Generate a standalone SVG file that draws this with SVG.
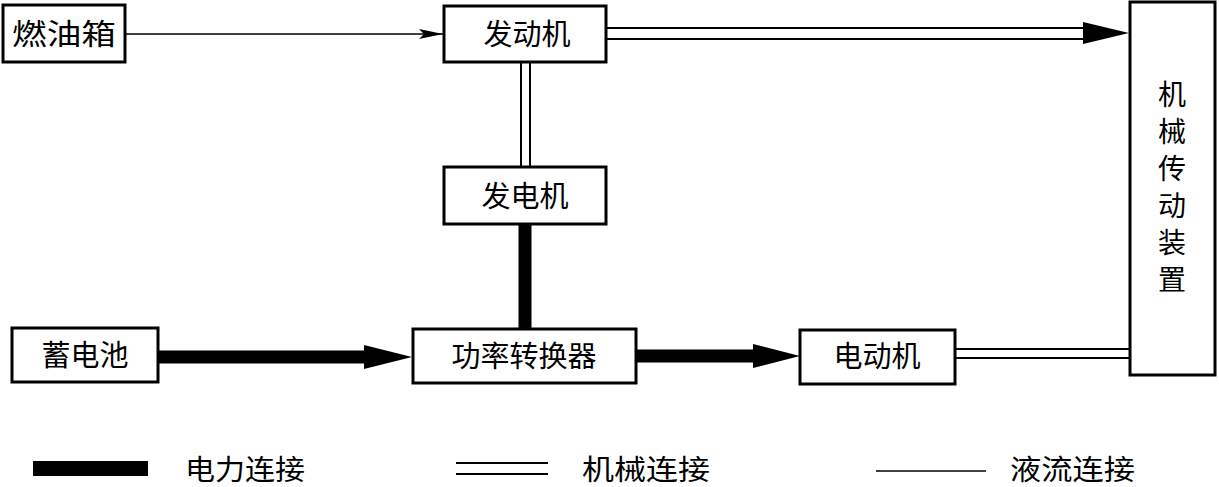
<svg xmlns="http://www.w3.org/2000/svg" width="1219" height="487" viewBox="0 0 1219 487">
<style>
.box{fill:#fff;stroke:#000;stroke-width:3}
.t{font-family:"Noto Sans CJK SC","Noto Sans",sans-serif;font-size:29px;fill:#000;text-anchor:middle}
.v{font-family:"Noto Sans CJK SC","Noto Sans",sans-serif;font-size:28px;fill:#000;writing-mode:vertical-rl;letter-spacing:9px}
.lg{font-family:"Noto Sans CJK SC","Noto Sans",sans-serif;font-size:28px;fill:#000}
.thin{stroke:#000;stroke-width:1.5;fill:none}
.dbl{stroke:#000;stroke-width:2;fill:none}
.thick{stroke:#000;stroke-width:13;fill:none}
</style>
<defs>
<marker id="small" markerWidth="24" markerHeight="10" refX="24" refY="5" orient="auto" markerUnits="userSpaceOnUse">
<path d="M0,0 L24,5 L0,10 L5,5 Z" fill="#000"/>
</marker>
</defs>
<rect width="1219" height="487" fill="#fff"/>
<g id="connectors">
<line class="thin" x1="125" y1="34" x2="443" y2="34" marker-end="url(#small)"/>
<line class="dbl" x1="606" y1="28" x2="1086" y2="28"/>
<line class="dbl" x1="606" y1="39" x2="1086" y2="39"/>
<path d="M1083,22 L1129,33 L1083,44 Z" fill="#000"/>
<line class="dbl" x1="521" y1="62" x2="521" y2="167"/>
<line class="dbl" x1="530" y1="62" x2="530" y2="167"/>
<line class="thick" x1="525" y1="224" x2="525" y2="329"/>
<line class="thick" x1="158" y1="357" x2="366" y2="357"/>
<path d="M364,345 L412,357 L364,369 Z" fill="#000"/>
<line class="thick" x1="636" y1="356" x2="756" y2="356"/>
<path d="M753,344 L800,356 L753,368 Z" fill="#000"/>
<line class="dbl" x1="955" y1="349" x2="1129" y2="349"/>
<line class="dbl" x1="955" y1="358" x2="1129" y2="358"/>
</g>
<g id="n-fueltank">
<rect class="box" x="3" y="5" width="122" height="57"/>
<text class="t" x="64" y="45" textLength="104" lengthAdjust="spacingAndGlyphs">燃油箱</text>
</g>
<g id="n-engine">
<rect class="box" x="444" y="6" width="162" height="56"/>
<text class="t" x="527" y="45">发动机</text>
</g>
<g id="n-generator">
<rect class="box" x="444" y="167" width="162" height="57"/>
<text class="t" x="525" y="207">发电机</text>
</g>
<g id="n-battery">
<rect class="box" x="12" y="328" width="146" height="54"/>
<text class="t" x="85" y="366">蓄电池</text>
</g>
<g id="n-converter">
<rect class="box" x="413" y="329" width="223" height="54"/>
<text class="t" x="524" y="367">功率转换器</text>
</g>
<g id="n-motor">
<rect class="box" x="800" y="330" width="155" height="54"/>
<text class="t" x="877" y="367">电动机</text>
</g>
<g id="n-transmission">
<rect class="box" x="1130" y="2" width="85" height="373"/>
<text class="v" x="1172" y="80">机械传动装置</text>
</g>
<g id="legend">
<rect x="33" y="461" width="115" height="15" fill="#000"/>
<text class="lg" x="185" y="480" textLength="120" lengthAdjust="spacingAndGlyphs">电力连接</text>
<line class="dbl" x1="456" y1="463" x2="548" y2="463"/>
<line class="dbl" x1="456" y1="474" x2="548" y2="474"/>
<text class="lg" x="582" y="480" textLength="128" lengthAdjust="spacingAndGlyphs">机械连接</text>
<line class="thin" x1="876" y1="471" x2="986" y2="471"/>
<text class="lg" x="1010" y="480" textLength="125" lengthAdjust="spacingAndGlyphs">液流连接</text>
</g>
</svg>
